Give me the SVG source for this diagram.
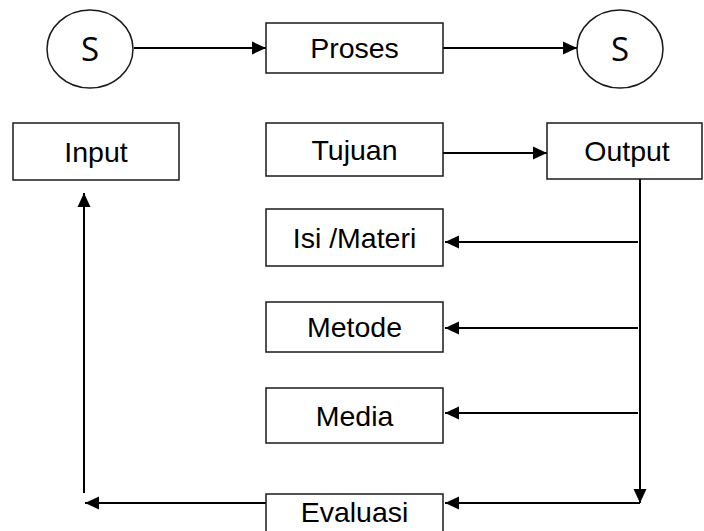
<svg xmlns="http://www.w3.org/2000/svg" width="704" height="531" viewBox="0 0 704 531">
  <style>
    .box { fill: #ffffff; stroke: #1a1a1a; stroke-width: 1.5; }
    .lbl { font-family: "Liberation Sans", Arial, sans-serif; font-size: 28.5px; fill: #000000; text-anchor: middle; }
    .s { font-family: "Open Sans", "Noto Sans", sans-serif; font-size: 33px; fill: #000000; text-anchor: middle; }
    .wire { fill: none; stroke: #000000; stroke-width: 2; }
  </style>
  <defs>
    <marker id="head" markerUnits="userSpaceOnUse" markerWidth="15" markerHeight="15" viewBox="0 0 15 15" refX="14" refY="7.5" orient="auto">
      <path d="M0,1 L14,7.5 L0,14 Z" fill="#000000"/>
    </marker>
  </defs>
  <rect width="704" height="531" fill="#ffffff"/>

  <g id="connectors">
    <line class="wire" x1="134" y1="48" x2="266" y2="48" marker-end="url(#head)"/>
    <line class="wire" x1="443" y1="48" x2="577" y2="48" marker-end="url(#head)"/>
    <line class="wire" x1="443" y1="153" x2="547" y2="153" marker-end="url(#head)"/>
    <line class="wire" x1="640" y1="179" x2="640" y2="503" marker-end="url(#head)"/>
    <line class="wire" x1="638" y1="242" x2="445" y2="242" marker-end="url(#head)"/>
    <line class="wire" x1="638" y1="328" x2="445" y2="328" marker-end="url(#head)"/>
    <line class="wire" x1="638" y1="413" x2="445" y2="413" marker-end="url(#head)"/>
    <line class="wire" x1="640" y1="503" x2="445" y2="503" marker-end="url(#head)"/>
    <line class="wire" x1="266" y1="503" x2="85" y2="503" marker-end="url(#head)"/>
    <line class="wire" x1="84" y1="493" x2="84" y2="193" marker-end="url(#head)"/>
  </g>

  <g id="start">
    <ellipse class="box" cx="90" cy="49" rx="43" ry="39"/>
    <text class="s" x="90" y="61">S</text>
  </g>
  <g id="proses">
    <rect class="box" x="266" y="23" width="177" height="50"/>
    <text class="lbl" x="354.5" y="58">Proses</text>
  </g>
  <g id="end">
    <ellipse class="box" cx="620" cy="49" rx="43" ry="39"/>
    <text class="s" x="620" y="61">S</text>
  </g>
  <g id="input">
    <rect class="box" x="13" y="123" width="166" height="57"/>
    <text class="lbl" x="96" y="162">Input</text>
  </g>
  <g id="tujuan">
    <rect class="box" x="266" y="123" width="177" height="53"/>
    <text class="lbl" x="354.5" y="160">Tujuan</text>
  </g>
  <g id="output">
    <rect class="box" x="547" y="123" width="155" height="56"/>
    <text class="lbl" x="627" y="161">Output</text>
  </g>
  <g id="isi-materi">
    <rect class="box" x="266" y="209" width="177" height="57"/>
    <text class="lbl" x="354.5" y="248">Isi /Materi</text>
  </g>
  <g id="metode">
    <rect class="box" x="266" y="302" width="177" height="50"/>
    <text class="lbl" x="354.5" y="337">Metode</text>
  </g>
  <g id="media">
    <rect class="box" x="266" y="388" width="177" height="55"/>
    <text class="lbl" x="354.5" y="426">Media</text>
  </g>
  <g id="evaluasi">
    <rect class="box" x="266" y="494" width="177" height="60"/>
    <text class="lbl" x="354.5" y="522">Evaluasi</text>
  </g>
</svg>
